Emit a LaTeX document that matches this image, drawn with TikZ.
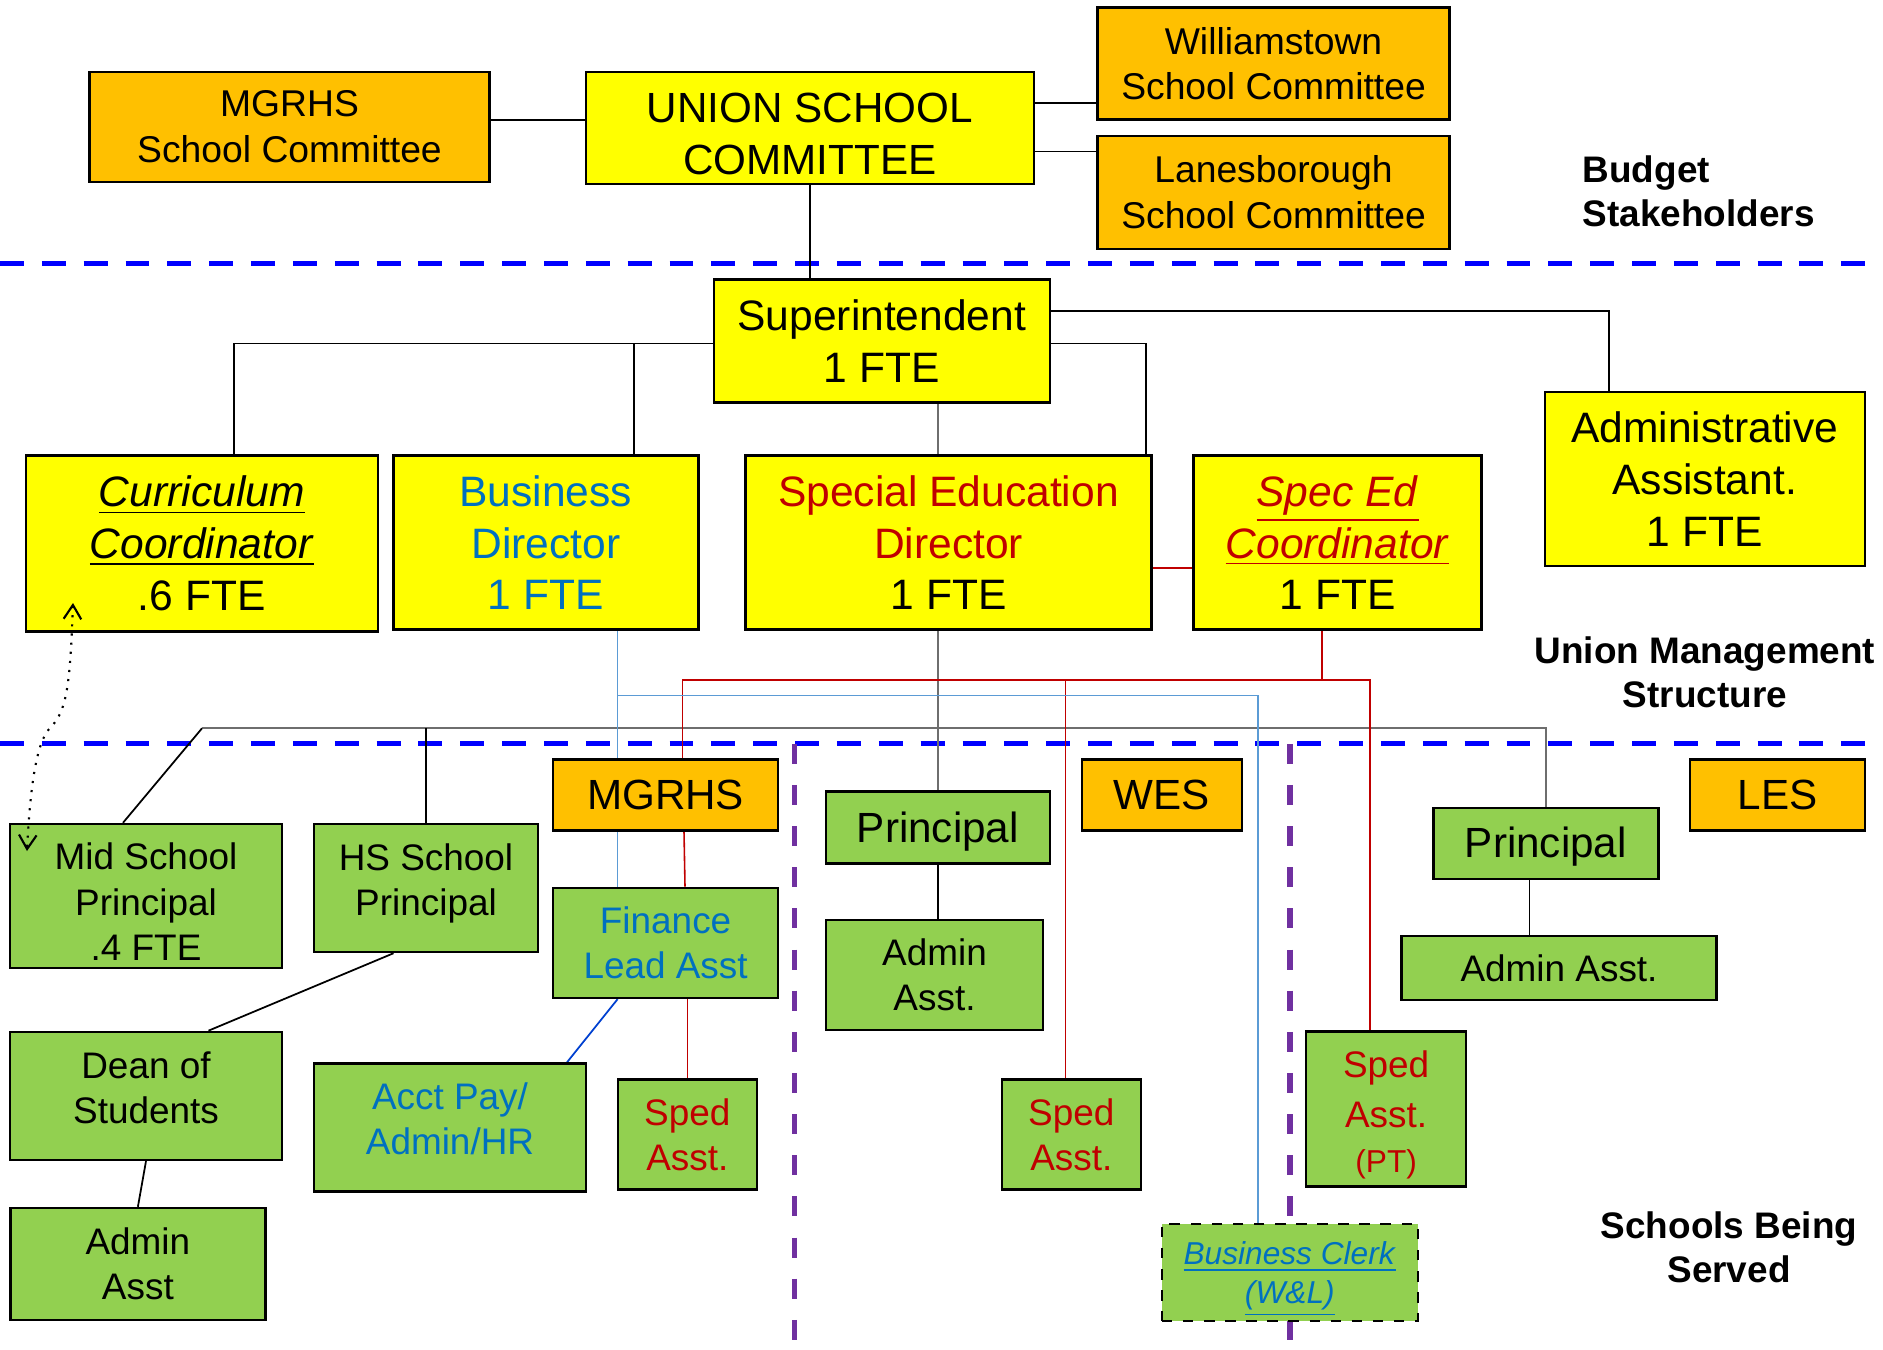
\documentclass[tikz,border=0pt]{standalone}
\usepackage{fontspec}
\setmainfont{Liberation Sans}
\usepackage{tikz}
\usetikzlibrary{arrows.meta,backgrounds}

\definecolor{gelb}{HTML}{FFFF00}
\definecolor{orangegelb}{HTML}{FFC000}
\definecolor{gruen}{HTML}{92D050}
\definecolor{textblau}{HTML}{0070C0}
\definecolor{textrot}{HTML}{C00000}
\definecolor{linienblau}{HTML}{5B9BD5}
\definecolor{linienrot}{HTML}{C00000}
\definecolor{diagblau}{HTML}{0040D0}
\definecolor{liniengrau}{HTML}{6E6E6E}
\definecolor{strichblau}{HTML}{0000FF}
\definecolor{lila}{HTML}{7030A0}

\newcommand{\fUnion}{\fontsize{12}{14.7}\selectfont}
\newcommand{\fKomitee}{\fontsize{10.6}{13}\selectfont}
\newcommand{\fGelb}{\fontsize{12.1}{14.7}\selectfont}
\newcommand{\fGruen}{\fontsize{10.5}{12.8}\selectfont}
\newcommand{\fSchule}{\fontsize{12}{14}\selectfont}
\newcommand{\fKlein}{\fontsize{9}{10.9}\selectfont}
\newcommand{\fTitel}{\fontsize{10.5}{12.6}\selectfont\bfseries}
%Streben zum Verschieben des Textes
\newcommand{\hoch}[1]{\rule{0pt}{#1}}
\newcommand{\tief}[1]{\rule[-#1]{0pt}{0pt}}

\tikzset{
  kasten/.style={draw, line width=0.7pt, inner sep=0pt, align=center},
  wh/.style 2 args={minimum width=#1*0.01cm, minimum height=#2*0.01cm},
  ybox/.style={kasten, fill=gelb, font=\fGelb},
  obox/.style={kasten, fill=orangegelb, font=\fKomitee},
  sbox/.style={kasten, fill=orangegelb, font=\fSchule},
  gbox/.style={kasten, fill=gruen, font=\fGruen},
  titel/.style={font=\fTitel, align=center, inner sep=0pt},
  verb/.style={line width=0.5pt},
  grauverb/.style={line width=0.6pt, draw=liniengrau},
  rotverb/.style={line width=0.45pt, draw=linienrot},
  blauverb/.style={line width=0.5pt, draw=linienblau},
  trenn/.style={draw=strichblau, line width=1.4pt, dash pattern=on 6.8pt off 5.1pt},
  schultrenn/.style={draw=lila, line width=1.5pt, dash pattern=on 5.7pt off 6pt}
}

\begin{document}
\begin{tikzpicture}[x=0.01cm, y=-0.01cm]
\useasboundingbox (0,0) rectangle (1883,1349);

%Komitees
\node[obox, wh={400}{110}] (mgrhssc) at (289.5,126.8) {MGRHS\\School Committee};
\node[ybox, font=\fUnion, wh={448}{112}] (union) at (809.8,128) {\hoch{11.8pt}UNION SCHOOL\\COMMITTEE};
\node[obox, wh={352}{112}] (wtsc) at (1273.5,63.7) {Williamstown\\School Committee};
\node[obox, wh={352}{113}] (lbsc) at (1273.5,192.4) {Lanesborough\\School Committee};

%Leitung
\node[ybox, wh={336}{123}] (supt) at (881.8,341.1) {Superintendent\\1 FTE};
\node[ybox, wh={352}{176}] (curr) at (201.8,543.4) {\underline{\textit{Curriculum}}\\\underline{\textit{Coordinator}}\\.6 FTE};
\node[ybox, text=textblau, wh={305}{174}] (busdir) at (545.8,542.6) {Business\\Director\\1 FTE};
\node[ybox, text=textrot, wh={406}{174}] (spedir) at (948.5,542.6) {Special Education\\Director\\\textcolor{black}{1 FTE}};
\node[ybox, text=textrot, wh={288}{174}] (spcoord) at (1337.5,542.6) {\underline{\textit{Spec Ed}}\\\underline{\textit{Coordinator}}\\\textcolor{black}{1 FTE}};
\node[ybox, wh={320}{174}] (admasst) at (1704.7,478.9) {Administrative\\Assistant.\\1 FTE};

%MGRHS
\node[gbox, wh={272}{144}] (midprin) at (146,896) {\hoch{10.8pt}Mid School\\Principal\\.4 FTE};
\node[gbox, wh={224}{128}] (hsprin) at (426,888) {HS School\\Principal\tief{5pt}};
\node[sbox, wh={225}{71}] (mgrhs) at (665.6,795.2) {MGRHS};
\node[gbox, text=textblau, wh={225}{110}] (finlead) at (665.6,942.9) {Finance\\Lead Asst};
\node[gbox, text=textrot, wh={139}{110}] (spedmg) at (687.3,1134.5) {Sped\\Asst.};
\node[gbox, text=textblau, wh={272}{128}] (acctpay) at (450,1127.5) {Acct Pay/\\Admin/HR\tief{5pt}};
\node[gbox, wh={272}{128}] (dean) at (146,1095.9) {Dean of\\Students\tief{4.8pt}};
\node[gbox, wh={255}{112}] (admmg) at (137.9,1264) {Admin\\Asst};

%WES
\node[sbox, wh={160}{71}] (wes) at (1161.9,795.2) {WES};
\node[gbox, font=\fSchule, wh={224}{72}] (wesprin) at (937.8,827.3) {\hoch{11.4pt}Principal};
\node[gbox, wh={217}{110}] (wesadm) at (934.5,975) {Admin\\Asst.};
\node[gbox, text=textrot, wh={139}{110}] (spedwes) at (1071.3,1134.5) {Sped\\Asst.};
\node[gbox, dashed, font=\fKlein, text=textblau, wh={256}{97}] (clerk) at (1289.8,1272.4) {\hoch{10.4pt}\underline{\textit{Business Clerk}}\\\underline{\textit{(W\&L)}}};

%LES
\node[sbox, wh={175}{71}] (les) at (1777.4,795.2) {LES};
\node[gbox, font=\fSchule, wh={225}{71}] (lesprin) at (1545.8,843.3) {\hoch{10.8pt}Principal};
\node[gbox, wh={315}{64}] (lesadm) at (1559,968.2) {Admin Asst.};
\node[gbox, text=textrot, wh={160}{155}] (spedpt) at (1386.1,1109.2) {\hoch{10.6pt}Sped\\[1.4pt]Asst.\\{\fKlein (PT)}};

%Beschriftung rechts
\node[titel, align=left, anchor=west] (budget) at (1582,191.5) {Budget\\Stakeholders};
\node[titel] (mgmt) at (1705,672) {Union Management\\Structure};
\node[titel] (served) at (1729,1247.5) {Schools Being\\Served};

\coordinate (dotA) at (73,603);
\coordinate (dotB) at (27,851);

\begin{scope}[on background layer]
%Trennlinien
\draw[trenn] (0,263.5) -- (1883,263.5);
\draw[trenn] (0,743.8) -- (1883,743.8);
\draw[schultrenn] (794.2,743.8) -- (794.2,1349);
\draw[schultrenn] (1290,743.8) -- (1290,1349);

\draw[verb] (mgrhssc.east |- 0,120) -- (union.west |- 0,120);
\draw[verb] (union.east |- 0,103) -- (wtsc.west |- 0,103);
\draw[verb] (union.east |- 0,151.5) -- (lbsc.west |- 0,151.5);
\draw[verb] (union.south) -- (supt.north -| union.south);
\draw[verb] (supt.west |- 0,343.5) -| (curr.north -| 234,0);
\draw[verb] (634,343.5) -- (busdir.north -| 634,0);
\draw[verb] (supt.east |- 0,311) -| (admasst.north -| 1609,0);
\draw[verb] (supt.east |- 0,343.5) -| (spedir.north -| 1146,0);

%Schulleitungen
\draw[grauverb] (supt.south -| wesprin.north) -- (wesprin.north);
\draw[grauverb] (lesprin.north) |- (202,728.3);
\draw[verb] (202,728.3) -- (midprin.north -| 123,0);
\draw[verb] (hsprin.north) -- (hsprin.north |- 0,728.3);
\draw[verb] (wesprin.south) -- (wesadm.north -| wesprin.south);
\draw[verb] (lesprin.south -| 1529.5,0) -- (lesadm.north -| 1529.5,0);
\draw[verb] (hsprin.south -| 393.5,0) -- (dean.north -| 208.5,0);
\draw[verb] (dean.south) -- (admmg.north);

%Sped
\path[rotverb] (spedir.east |- 0,568.2) edge (spcoord.west |- 0,568.2);
\draw[rotverb] (spcoord.south -| 1322,0) -- (1322,680.2);
\draw[rotverb] (mgrhs.north -| 682.5,0) |- (1369.9,680.2) -- (spedpt.north -| 1369.9,0);
\draw[rotverb] (mgrhs.south -| 684,0) -- (finlead.north -| 685,0);
\draw[rotverb] (finlead.south -| spedmg.north) -- (spedmg.north);
\draw[rotverb] (1065.6,680.2) -- (spedwes.north -| 1065.6,0);

%Finanzen
\draw[blauverb] (busdir.south -| 617.6,0) -- (finlead.north -| 617.6,0);
\draw[blauverb] (617.6,695.6) -| (clerk.north -| 1257.7,0);
\path[line width=0.5pt, draw=diagblau] (finlead.south -| 617.6,0) edge (acctpay.north -| 567,0);
\end{scope}

%gestrichelter Doppelpfeil
\draw[dotted, line width=0.6pt, <->, >={Straight Barb[length=4pt,width=5pt]}] (dotA) .. controls (70,690) and (66,712) .. (50,728) .. controls (36,742) and (30,790) .. (dotB);
\end{tikzpicture}
\end{document}
